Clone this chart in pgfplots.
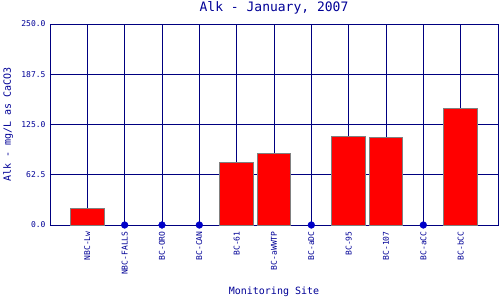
\documentclass[border=0pt]{standalone}
\usepackage{pgfplots}
\pgfplotsset{compat=1.18}
\usepackage{fontspec}
\setmainfont{DejaVu Sans Mono}
\definecolor{nv}{RGB}{0,0,128}
\definecolor{tx}{RGB}{0,0,150}
\definecolor{dot}{RGB}{0,0,200}
\begin{document}
\begin{tikzpicture}[x=1pt,y=1pt]
\useasboundingbox (-50,-75) rectangle (450,225);
\begin{axis}[
  at={(0,0)}, anchor=south west,
  scale only axis, width=448pt, height=201pt,
  xmin=-1, xmax=11, ymin=0, ymax=250,
  xtick={0,...,10},
  xticklabels={NBC-Lw,NBC-FALLS,BC-ORO,BC-CAN,BC-61,BC-aWWTP,BC-aDC,BC-95,BC-107,BC-aCC,BC-bCC},
  ytick={0,62.5,125,187.5,250},
  /pgf/number format/fixed,
  /pgf/number format/fixed zerofill,
  /pgf/number format/precision=1,
  /pgf/number format/assume math mode=true,
  x tick label style={rotate=90, anchor=east, font=\fontsize{8}{8}\selectfont, text=tx, xshift=-3pt},
  y tick label style={font=\fontsize{8}{8}\selectfont, text=tx, xshift=-1pt},
  major tick length=0pt,
  grid=major, major grid style={nv, line width=0.8pt},
  axis line style={nv, line width=0.8pt},
  title={Alk - January, 2007},
  title style={font=\fontsize{13}{13}\selectfont, text=tx, at={(0.5,1)}, anchor=center, yshift=10pt},
  xlabel={Monitoring Site},
  xlabel style={font=\fontsize{10}{10}\selectfont, text=tx, at={(0.5,0)}, anchor=center, yshift=-67pt},
  ylabel={Alk - mg/L as CaCO3},
  ylabel style={font=\fontsize{10}{10}\selectfont, text=tx, at={(0,0.5)}, anchor=center, yshift=42pt},
  clip=false,
]
\addplot[ybar, bar width=0.91, bar shift=0pt, fill=red, draw=gray, line width=1pt]
  coordinates {(0,21) (4,78) (5,89) (7,110.5) (8,109) (10,145)};
\addplot[only marks, mark=*, mark size=3.4pt, color=dot]
  coordinates {(1,0) (2,0) (3,0) (6,0) (9,0)};
\end{axis}
\end{tikzpicture}
\end{document}
